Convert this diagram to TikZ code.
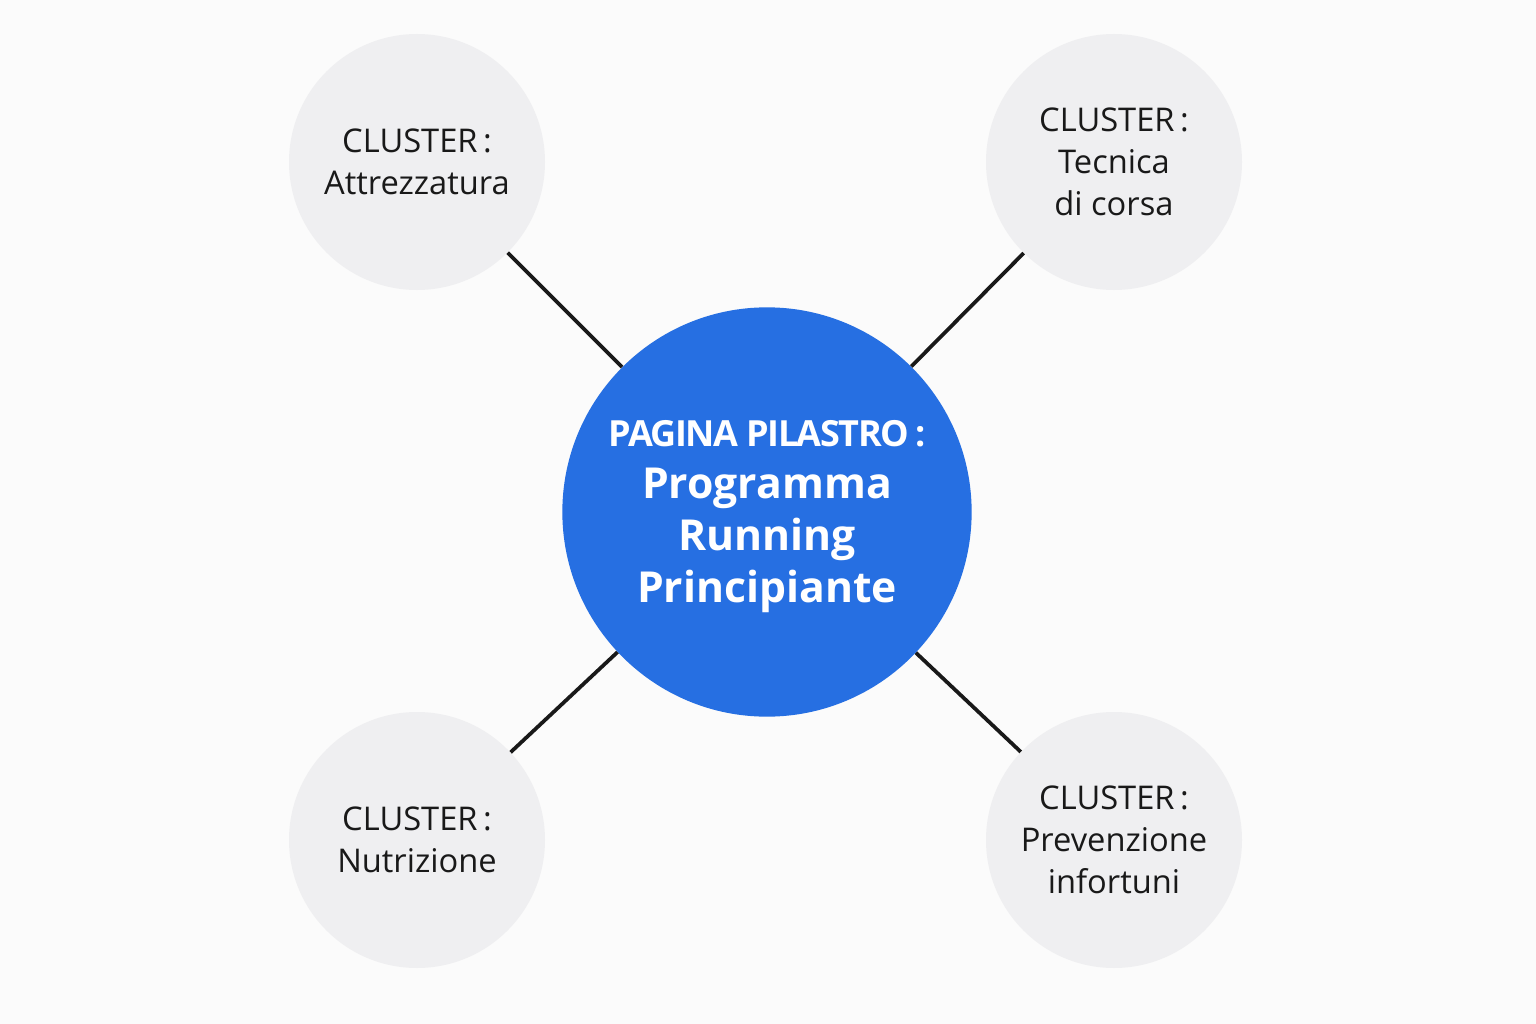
\documentclass[tikz,border=0pt]{standalone}
\usepackage{fontspec}
\setmainfont{Open Sans}
\usepackage{xcolor}
\definecolor{pillarblue}{HTML}{266FE2}
\definecolor{clustergray}{HTML}{EFEFF1}
\definecolor{bgwhite}{HTML}{FBFBFB}
\begin{document}
\begin{tikzpicture}[x=0.75pt,y=0.75pt,yscale=-1,xscale=1,
    cluster/.style={circle,fill=clustergray,minimum size=192pt,inner sep=0pt,align=center,text=black!90,font=\fontsize{24.5}{31.5}\selectfont},
    pillar/.style={circle,fill=pillarblue,minimum size=307pt,inner sep=0pt,align=center,text=white,font=\fontsize{32}{39}\selectfont\bfseries},
    link/.style={line width=2.8pt,black!90}]
        \fill[bgwhite] (0,0) rectangle (1536,1024);
        \useasboundingbox (0,0) rectangle (1536,1024);

        \node[pillar] (pillar) at (767,512) {\mbox{}\\[-12pt]{\fontsize{27}{39}\selectfont\addfontfeature{LetterSpace=-4}PAGINA PILASTRO\,:}\\
            Programma\\Running\\Principiante};

        \node[cluster] (gear) at (417,162) {CLUSTER\,:\\Attrezzatura};
        \node[cluster] (technique) at (1114,162) {CLUSTER\,:\\Tecnica\\di corsa};
        \node[cluster] (food) at (417,840) {CLUSTER\,:\\Nutrizione};
        \node[cluster] (injury) at (1114,840) {CLUSTER\,:\\Prevenzione\\infortuni};

        \draw[link] (gear) -- (pillar);
        \draw[link] (technique) -- (pillar);
        \draw[link] (food) -- (pillar);
        \draw[link] (injury) -- (pillar);
    \end{tikzpicture}
\end{document}
